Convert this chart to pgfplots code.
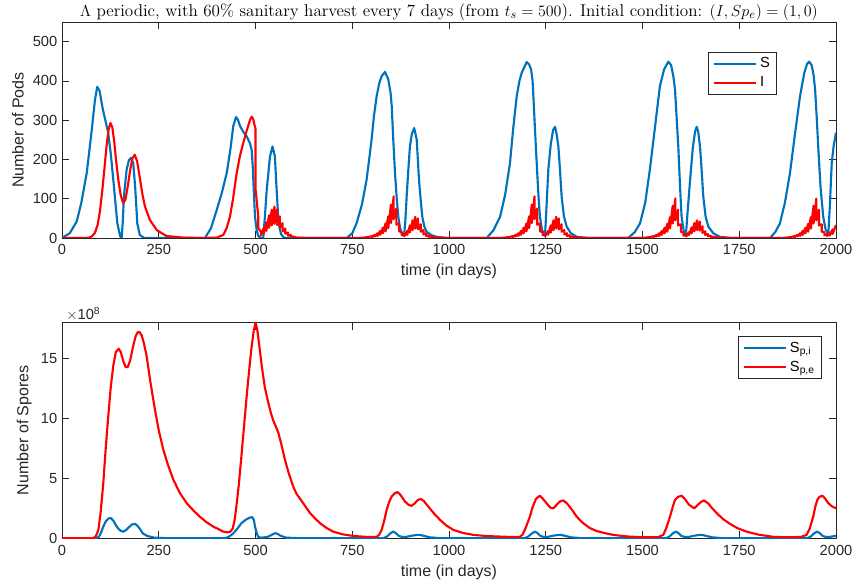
\documentclass[border=0pt]{standalone}
\usepackage{pgfplots}
\pgfplotsset{compat=1.18}
\usepackage{fontspec}
\newfontfamily\hv{Liberation Sans}
\definecolor{mblue}{HTML}{0072BD}
\definecolor{mred}{HTML}{FF0000}
\definecolor{mgray}{HTML}{262626}

\pgfplotsset{mstyle/.style={width=580.5pt, height=162pt, scale only axis,
  xmin=0, xmax=2000, xtick={0,250,...,2000}, clip mode=individual,
  axis line style={mgray, line width=0.5pt}, tick style={mgray, line width=0.5pt},
  major tick length=5.5pt,
  tick label style={font=\hv\fontsize{11}{13}\selectfont, text=mgray},
  xticklabel style={yshift=-1.5pt},
  /pgf/number format/assume math mode=true, /pgf/number format/1000 sep={},
  label style={font=\hv\fontsize{12}{14}\selectfont, text=mgray},
  xlabel={time (in days)},
  legend style={font=\hv\fontsize{11}{13}\selectfont, draw=mgray, line width=0.5pt, fill=white,
    inner xsep=3pt, inner ysep=2pt, row sep=1pt},
  legend cell align=left,
  legend image code/.code={\draw[#1] (0pt,0pt) -- (32pt,0pt);},
  every axis plot/.append style={line width=1.6pt, line join=round}}}

\begin{document}
\begin{tikzpicture}
\useasboundingbox (-46.5pt,-262.5pt) rectangle (592.5pt,178.5pt);
\begin{axis}[mstyle, ymin=0, ymax=550, ytick={0,100,...,500},
  ylabel={Number of Pods},
  title={$\Lambda$ periodic, with 60\% sanitary harvest every 7 days (from $t_s=500$). Initial condition: $(I,Sp_e)=(1,0)$},
  title style={font=\fontsize{12.8}{15}\selectfont, yshift=-8.5pt},
  legend style={at={(0.835,0.861)}, anchor=north west}]
\addplot[mblue] coordinates {(0,0) (20,12) (38,42) (50,90) (64,166) (77,276) (85,350) (91,385) (97,375) (105,330) (112,300) (119,270) (126,215) (132.6,148) (138,90) (143,38) (150,5) (154,0) (157,40) (160,106) (167,174) (173,198) (178,204) (184,191) (189,131) (194.6,37) (201,8) (212,0) (369.5,0) (385,25) (400,72) (413,115) (425.6,165) (435,225) (442.6,285) (449.6,308) (455,300) (460,285) (470,268) (477,259) (485,243) (490,225) (493,180) (496,110) (498.7,54) (503,20) (507,5) (515,0) (520,0) (524,50) (529,123) (537.5,208) (544,233) (550,208) (554.6,123) (558,65) (561.6,29) (566,10) (572,2) (580,0)
 (735.5,0) (750,12) (761,37) (775,85) (787,148) (795,210) (800,251) (806,310) (813,361) (820,395) (826,412) (834.6,423) (843,404) (849,370) (852,336) (856,250) (860.5,165) (865,100) (869,54) (873,28) (877.8,12) (883.7,5) (887,40) (890.6,106) (895,175) (899,233) (904,265) (910,280) (916.5,251) (922.5,148) (927,95) (931,54) (936,30) (942,16) (955,7) (968,3) (994,0)
 (1097.5,0) (1115,20) (1132,54) (1145,110) (1157.6,191) (1166,280) (1175,361) (1182,400) (1188,421) (1200.7,448) (1207,442) (1212,430) (1216,400) (1218,361) (1222,280) (1226.6,191) (1231,110) (1235,54) (1240,22) (1248,5) (1251,60) (1256.6,174) (1263,240) (1269,275) (1274,283) (1278,265) (1282.6,233) (1287,170) (1291,106) (1297,55) (1304,29) (1315,12) (1330,3) (1360,0)
 (1463,0) (1480,15) (1493.5,37) (1507,90) (1519,174) (1532,280) (1545,387) (1556,430) (1567,449) (1574,440) (1580,410) (1584,378) (1588,310) (1592.5,233) (1597,130) (1601,54) (1606,20) (1612,5) (1616,60) (1623,148) (1630,230) (1636,272) (1640,283) (1644,270) (1648.6,233) (1653,170) (1657,106) (1663,55) (1670,29) (1683,12) (1700,3) (1730,0)
 (1829.5,0) (1843,15) (1855,37) (1868,90) (1881,165) (1894,265) (1907,361) (1918,420) (1925,443) (1931,449) (1937,440) (1942,415) (1946,378) (1950,310) (1954,233) (1960,130) (1967,54) (1973,22) (1980,8) (1984,80) (1989,191) (1994,235) (2000,268)};
\addlegendentry{S}
\addplot[mred] coordinates {(0,0) (60,0) (70,1) (77,4) (85,13) (92,33) (98,68) (104,120) (110,180) (115,233) (120,274) (125,293) (130,282) (135,245) (140,195) (146,145) (152,108) (158,89) (164,98) (170,132) (176,172) (182,203) (188,212) (194,196) (201.6,150) (208,110) (214.5,80) (227,46) (245,20) (270,5) (313,1) (360,0) (400,1) (417,8) (425,24) (434,54) (442,100) (451,163) (460,210) (468.5,242) (475,266) (481,285) (486,301) (490,309) (494,303) (497,290) (500,278) (500.01,125) (503,96) (507,55) (507.01,25) (514,16) (514.01,7)
 (521,25) (521.01,11) (528,40) (528.01,18) (535,58) (535.01,26) (542,72) (542.01,32) (549,80) (549.01,36) (556,73) (556.01,33) (563,55) (563.01,25) (570,38) (570.01,17) (577,24) (577.01,11) (584,14) (584.01,6) (591,8) (591.01,4) (598,4) (598.01,2) (605,2) (605.01,1) (612,1) (640,0) (760,0)
 (773,0.5) (780,1) (787,2) (794,3) (801,5) (801.01,2) (808,8) (808.01,4) (815,12) (815.01,5) (822,18) (822.01,8) (829,26) (829.01,12) (836,37) (836.01,17) (843,55) (843.01,25) (850,85) (850.01,38) (857,106) (857.01,48) (864,75) (864.01,34) (871,37) (871.01,17) (878,15) (878.01,7) (885,10) (885.01,5) (892,18) (892.01,8) (899,32) (899.01,14) (906,45) (906.01,20) (913,54) (913.01,24) (920,50) (920.01,22) (927,35) (927.01,16) (934,20) (934.01,9) (941,12) (941.01,5) (948,7) (948.01,3) (955,4) (955.01,2) (962,2.5) (969,1.5) (976,1) (1000,0.2) (1130,0)
 (1137,0.5) (1144,1) (1151,2) (1158,3) (1165,5) (1165.01,2) (1172,8) (1172.01,4) (1179,12) (1179.01,5) (1186,18) (1186.01,8) (1193,26) (1193.01,12) (1200,37) (1200.01,17) (1207,55) (1207.01,25) (1214,85) (1214.01,38) (1221,106) (1221.01,48) (1228,75) (1228.01,34) (1235,37) (1235.01,17) (1242,15) (1242.01,7) (1249,10) (1249.01,5) (1256,18) (1256.01,8) (1263,32) (1263.01,14) (1270,45) (1270.01,20) (1277,54) (1277.01,24) (1284,50) (1284.01,22) (1291,35) (1291.01,16) (1298,20) (1298.01,9) (1305,12) (1305.01,5) (1312,7) (1312.01,3) (1319,4) (1319.01,2) (1326,2.5) (1333,1.5) (1340,1) (1364,0.2) (1494,0)
 (1501,0.5) (1508,1) (1515,2) (1522,3) (1529,5) (1529.01,2) (1536,8) (1536.01,4) (1543,12) (1543.01,5) (1550,18) (1550.01,8) (1557,26) (1557.01,12) (1564,36) (1564.01,16) (1571,53) (1571.01,24) (1578,82) (1578.01,37) (1585,101) (1585.01,45) (1592,72) (1592.01,32) (1599,35) (1599.01,16) (1606,14) (1606.01,6) (1613,9) (1613.01,4) (1620,15) (1620.01,7) (1627,27) (1627.01,12) (1634,38) (1634.01,17) (1641,45) (1641.01,20) (1648,42) (1648.01,19) (1655,30) (1655.01,13) (1662,17) (1662.01,8) (1669,10) (1669.01,5) (1676,6) (1676.01,3) (1683,3.5) (1683.01,1.5) (1690,2) (1697,1.2) (1704,0.8) (1728,0.2) (1858,0)
 (1865,0.5) (1872,1) (1879,2) (1886,3) (1893,5) (1893.01,2) (1900,8) (1900.01,4) (1907,12) (1907.01,5) (1914,18) (1914.01,8) (1921,26) (1921.01,12) (1928,36) (1928.01,16) (1935,53) (1935.01,24) (1942,82) (1942.01,37) (1949,100) (1949.01,45) (1956,72) (1956.01,32) (1963,35) (1963.01,16) (1970,15) (1970.01,7) (1977,10) (1977.01,5) (1984,14) (1984.01,6) (1991,22) (1991.01,10) (2000,33)};
\addlegendentry{I}
\end{axis}

\begin{axis}[mstyle, at={(0,-225.2pt)}, ymin=0, ymax=18, ytick={0,5,10,15},
  ylabel={Number of Spores},
  legend style={at={(0.9815,0.935)}, anchor=north east}]
\node[anchor=south west, font=\hv\fontsize{11}{13}\selectfont, text=mgray, inner sep=1pt, xshift=2pt] at (rel axis cs:0,1) {$\times$10\textsuperscript{8}};
\addplot[mblue] coordinates {(0,0) (85,0) (95,0.1) (100,0.4) (106.7,0.97) (113,1.4) (120,1.65) (126.6,1.68) (133,1.45) (140,1.05) (147,0.75) (153,0.6) (158.5,0.55) (166,0.7) (174,0.95) (181,1.15) (188.6,1.2) (195,1.05) (202,0.75) (209,0.4) (220,0.2) (238,0.05) (280,0) (420,0) (430,0.1) (442.6,0.4) (453,0.8) (463.6,1.26) (475,1.55) (485,1.72) (491.9,1.76) (496,1.5) (498.7,0.97) (503,0.45) (507,0.1) (515,0.05) (530,0.1) (540,0.25) (547,0.38) (552,0.42) (558,0.35) (565,0.2) (580,0.05) (620,0) (830,0) (840,0.15) (848,0.4) (856,0.55) (862,0.45) (870,0.2) (880,0.1) (890,0.12) (905,0.22) (918,0.28) (925,0.28) (935,0.2) (950,0.08) (980,0) (1195,0) (1205,0.15) (1214,0.4) (1222,0.55) (1228,0.45) (1236,0.2) (1246,0.1) (1256,0.12) (1270,0.22) (1283,0.28) (1290,0.28) (1300,0.2) (1315,0.08) (1345,0) (1560,0) (1570,0.15) (1578,0.4) (1586,0.55) (1592,0.45) (1600,0.2) (1610,0.1) (1620,0.12) (1635,0.22) (1647,0.28) (1654,0.28) (1664,0.2) (1680,0.08) (1710,0) (1925,0) (1935,0.15) (1943,0.4) (1951,0.55) (1957,0.45) (1965,0.2) (1975,0.1) (1985,0.12) (2000,0.2)};
\addlegendentry{S\textsubscript{p,i}}
\addplot[mred] coordinates {(0,0) (81,0) (88,0.2) (94,0.7) (100,2.2) (106.7,4.6) (113,7.5) (119.6,10.2) (126,12.6) (132.6,14.4) (139,15.5) (146.5,15.8) (152,15.5) (158,14.8) (164,14.3) (169.7,14.25) (176,14.8) (183,15.9) (190,16.8) (195,17.15) (199.8,17.2) (206,16.9) (212,16.2) (218.6,15.2) (228,13.1) (240,10.75) (250,9) (261.6,7.4) (274,6.1) (287.5,4.9) (304,3.8) (322,2.93) (340,2.3) (356,1.8) (373,1.35) (391,0.97) (405,0.75) (417,0.55) (428,0.5) (435,0.55) (441,0.8) (446,1.5) (450.6,2.65) (457,4.5) (463.6,6.84) (470,9.2) (476.5,11.6) (483,13.8) (489.4,15.8) (495,17.2) (500,18.0) (505,17.3) (510,16) (516,14.4) (524,12.6) (533,11.3) (540,10.4) (546,9.8) (552,9.35) (559,8.8) (567,7.8) (576,6.56) (586,5.4) (597.6,4.3) (606,3.7) (615,3.3) (628,2.7) (641,2.1) (654,1.65) (666.7,1.26) (684,0.85) (701,0.55) (725,0.33) (752.7,0.19) (785,0.12) (813,0.12) (820,0.3) (826,0.7) (832,1.4) (839,2.37) (845,3.0) (852,3.49) (860,3.75) (867,3.85) (875,3.6) (886,3.07) (895,2.8) (903,2.7) (911,2.9) (920,3.2) (927.6,3.27) (935,3.1) (950,2.5) (963,2.0) (977,1.53) (993,1.07) (1011,0.7) (1035,0.45) (1063,0.28) (1100,0.18) (1150,0.12) (1183,0.12) (1190,0.3) (1196,0.7) (1202,1.2) (1209,1.8) (1216,2.6) (1225,3.3) (1235,3.55) (1245,3.2) (1255,2.8) (1262,2.55) (1269.6,2.5) (1280,2.85) (1288,3.1) (1295.5,3.15) (1305,2.9) (1315,2.5) (1330,1.8) (1345,1.3) (1364,0.85) (1381.7,0.6) (1400,0.45) (1424.6,0.28) (1460,0.15) (1502,0.08) (1540,0.1) (1553.7,0.28) (1562,0.9) (1571,1.8) (1578,2.6) (1584,3.2) (1592,3.45) (1601,3.55) (1610,3.25) (1620,2.8) (1633.7,2.5) (1645,2.85) (1652,3.05) (1658.9,3.15) (1670,2.9) (1680,2.5) (1691.6,2.1) (1708,1.6) (1726,1.2) (1745,0.85) (1769,0.55) (1800,0.3) (1838,0.12) (1880,0.08) (1910,0.12) (1924,0.28) (1932,0.8) (1941,1.8) (1947,2.7) (1951.8,3.2) (1957,3.45) (1964.6,3.55) (1972,3.3) (1980,2.93) (1990,2.65) (2000,2.5)};
\addlegendentry{S\textsubscript{p,e}}
\end{axis}
\end{tikzpicture}
\end{document}
